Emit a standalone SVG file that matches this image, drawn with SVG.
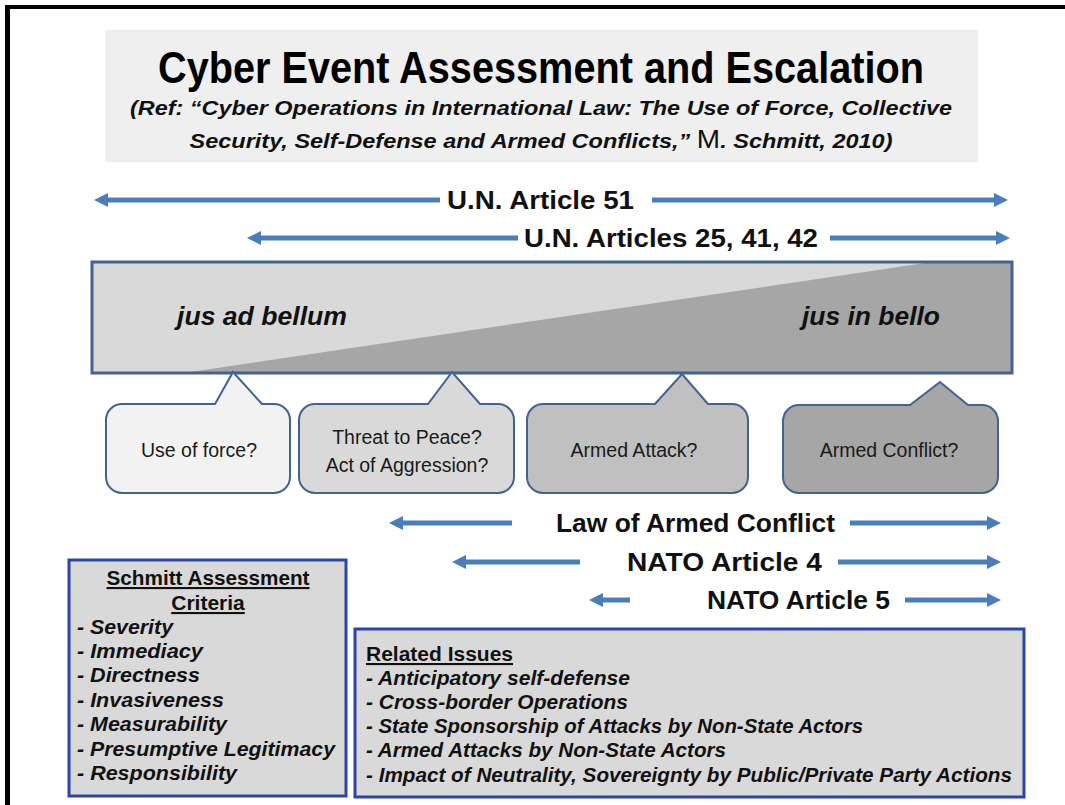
<svg xmlns="http://www.w3.org/2000/svg" width="1065" height="805" viewBox="0 0 1065 805">
<style>
.title{font-family:"Liberation Sans",Arial,sans-serif;font-weight:bold;fill:#000}
.sub{font-family:"Liberation Sans",Arial,sans-serif;font-weight:bold;font-style:italic;font-size:21px;fill:#111}
.alab{font-family:"Liberation Sans",Arial,sans-serif;font-weight:bold;font-size:25px;fill:#111}
.jus{font-family:"Liberation Sans",Arial,sans-serif;font-weight:bold;font-style:italic;font-size:26px;fill:#111}
.cl{font-family:"Liberation Sans",Arial,sans-serif;font-size:19.5px;fill:#1a1a1a;text-anchor:middle}
.arr{stroke:#4a7ebb;stroke-width:5;fill:none}
.call{stroke:#44628f;stroke-width:2}
.box{fill:#d9d9d9;stroke:#2a47a8;stroke-width:3}
.bt{font-family:"Liberation Sans",Arial,sans-serif;font-weight:bold;font-style:italic;font-size:21px;fill:#111}
.bh{font-family:"Liberation Sans",Arial,sans-serif;font-weight:bold;font-size:21px;fill:#111;text-decoration:underline}
</style>
<defs>
<marker id="ah" markerUnits="userSpaceOnUse" viewBox="0 0 14 14" refX="2" refY="7" markerWidth="14" markerHeight="14" orient="auto-start-reverse">
<path d="M0,0 L14,7 L0,14 Z" fill="#4a7ebb"/>
</marker>
</defs>
<rect width="1065" height="805" fill="#fff"/>
<g id="frame">
<rect x="5" y="5" width="1060" height="4" fill="#000"/>
<rect x="5" y="5" width="5" height="800" fill="#000"/>
</g>
<g id="titlebox">
<rect x="105" y="30" width="873" height="132" fill="#efefef"/>
<text class="title" x="541" y="83" font-size="44" text-anchor="middle" textLength="766" lengthAdjust="spacingAndGlyphs">Cyber Event Assessment and Escalation</text>
<text class="sub" x="541" y="115" text-anchor="middle" textLength="822" lengthAdjust="spacingAndGlyphs">(Ref: “Cyber Operations in International Law: The Use of Force, Collective</text>
<text class="sub" x="541" y="148" text-anchor="middle" textLength="703" lengthAdjust="spacingAndGlyphs">Security, Self-Defense and Armed Conflicts,” <tspan font-style="normal" font-weight="normal" font-size="25">M</tspan>. Schmitt, 2010)</text>
</g>
<g id="connectors">
<line class="arr" x1="106" y1="200" x2="440" y2="200" marker-start="url(#ah)"/>
<line class="arr" x1="652" y1="200" x2="996" y2="200" marker-end="url(#ah)"/>
<line class="arr" x1="259" y1="238" x2="518" y2="238" marker-start="url(#ah)"/>
<line class="arr" x1="830" y1="238" x2="998" y2="238" marker-end="url(#ah)"/>
<line class="arr" x1="401" y1="523" x2="512" y2="523" marker-start="url(#ah)"/>
<line class="arr" x1="850" y1="523" x2="989" y2="523" marker-end="url(#ah)"/>
<line class="arr" x1="464" y1="562" x2="580" y2="562" marker-start="url(#ah)"/>
<line class="arr" x1="838" y1="562" x2="989" y2="562" marker-end="url(#ah)"/>
<line class="arr" x1="601" y1="600" x2="630" y2="600" marker-start="url(#ah)"/>
<line class="arr" x1="905" y1="600" x2="989" y2="600" marker-end="url(#ah)"/>
</g>
<g id="labels">
<text class="alab" x="447" y="209" textLength="187" lengthAdjust="spacingAndGlyphs">U.N. Article 51</text>
<text class="alab" x="524" y="247" textLength="294" lengthAdjust="spacingAndGlyphs">U.N. Articles 25, 41, 42</text>
<text class="alab" x="556" y="532" textLength="279" lengthAdjust="spacingAndGlyphs">Law of Armed Conflict</text>
<text class="alab" x="627" y="571" textLength="195" lengthAdjust="spacingAndGlyphs">NATO Article 4</text>
<text class="alab" x="707" y="609" textLength="183" lengthAdjust="spacingAndGlyphs">NATO Article 5</text>
</g>
<g id="spectrum">
<rect x="92" y="262" width="920" height="111" fill="#d9d9d9"/>
<polygon points="190,372 925,263 1011,263 1011,372" fill="#a6a6a6"/>
<rect x="92" y="262" width="920" height="111" fill="none" stroke="#44628f" stroke-width="3"/>
<text class="jus" x="177" y="325" textLength="170" lengthAdjust="spacingAndGlyphs">jus ad bellum</text>
<text class="jus" x="802" y="325" textLength="138" lengthAdjust="spacingAndGlyphs">jus in bello</text>
</g>
<g id="c1">
<path class="call" fill="#f2f2f2" d="M122,404 L215,404 L233,372 L262,404 L274,404 A16,16 0 0 1 290,420 L290,477 A16,16 0 0 1 274,493 L122,493 A16,16 0 0 1 106,477 L106,420 A16,16 0 0 1 122,404 Z"/>
<text class="cl" x="199" y="457">Use of force?</text>
</g>
<g id="c2">
<path class="call" fill="#d9d9d9" d="M315,404 L428,404 L452,372 L480,404 L498,404 A16,16 0 0 1 514,420 L514,477 A16,16 0 0 1 498,493 L315,493 A16,16 0 0 1 299,477 L299,420 A16,16 0 0 1 315,404 Z"/>
<text class="cl" x="407" y="444">Threat to Peace?</text>
<text class="cl" x="407" y="472">Act of Aggression?</text>
</g>
<g id="c3">
<path class="call" fill="#c0c0c0" d="M543,404 L655,404 L682,374 L708,404 L732,404 A16,16 0 0 1 748,420 L748,477 A16,16 0 0 1 732,493 L543,493 A16,16 0 0 1 527,477 L527,420 A16,16 0 0 1 543,404 Z"/>
<text class="cl" x="634" y="457">Armed Attack?</text>
</g>
<g id="c4">
<path class="call" fill="#a6a6a6" d="M799,405 L910,405 L940,382 L968,405 L982,405 A16,16 0 0 1 998,421 L998,477 A16,16 0 0 1 982,493 L799,493 A16,16 0 0 1 783,477 L783,421 A16,16 0 0 1 799,405 Z"/>
<text class="cl" x="889" y="457">Armed Conflict?</text>
</g>
<g id="criteria">
<rect class="box" x="69" y="560" width="277" height="236"/>
<text class="bh" x="208" y="585" text-anchor="middle" textLength="203" lengthAdjust="spacingAndGlyphs">Schmitt Assessment</text>
<text class="bh" x="208" y="610" text-anchor="middle">Criteria</text>
<text class="bt" x="77" y="634" textLength="96" lengthAdjust="spacingAndGlyphs">- Severity</text>
<text class="bt" x="77" y="658" textLength="126" lengthAdjust="spacingAndGlyphs">- Immediacy</text>
<text class="bt" x="77" y="682" textLength="123" lengthAdjust="spacingAndGlyphs">- Directness</text>
<text class="bt" x="77" y="707" textLength="147" lengthAdjust="spacingAndGlyphs">- Invasiveness</text>
<text class="bt" x="77" y="731" textLength="150" lengthAdjust="spacingAndGlyphs">- Measurability</text>
<text class="bt" x="77" y="756" textLength="258" lengthAdjust="spacingAndGlyphs">- Presumptive Legitimacy</text>
<text class="bt" x="77" y="780" textLength="160" lengthAdjust="spacingAndGlyphs">- Responsibility</text>
</g>
<g id="issues">
<rect class="box" x="355" y="629" width="669" height="168"/>
<text class="bh" x="366" y="661" font-size="20" textLength="147" lengthAdjust="spacingAndGlyphs">Related Issues</text>
<text class="bt" x="366" y="685" font-size="20" textLength="264" lengthAdjust="spacingAndGlyphs">- Anticipatory self-defense</text>
<text class="bt" x="366" y="709" font-size="20" textLength="262" lengthAdjust="spacingAndGlyphs">- Cross-border Operations</text>
<text class="bt" x="366" y="733" font-size="20" textLength="497" lengthAdjust="spacingAndGlyphs">- State Sponsorship of Attacks by Non-State Actors</text>
<text class="bt" x="366" y="757" font-size="20" textLength="360" lengthAdjust="spacingAndGlyphs">- Armed Attacks by Non-State Actors</text>
<text class="bt" x="366" y="782" font-size="20" textLength="646" lengthAdjust="spacingAndGlyphs">- Impact of Neutrality, Sovereignty by Public/Private Party Actions</text>
</g>
</svg>
